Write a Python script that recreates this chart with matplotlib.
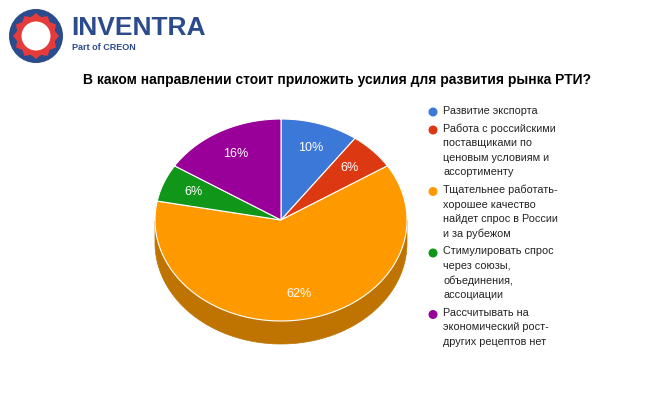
import numpy as np
import matplotlib
matplotlib.use("Agg")
import matplotlib.pyplot as plt
from matplotlib.patches import Polygon, Circle

categories = ["Развитие экспорта",
              "Работа с российскими\nпоставщиками по\nценовым условиям и\nассортименту",
              "Тщательнее работать-\nхорошее качество\nнайдет спрос в России\nи за рубежом",
              "Стимулировать спрос\nчерез союзы,\nобъединения,\nассоциации",
              "Рассчитывать на\nэкономический рост-\nдругих рецептов нет"]
values = [10, 6, 62, 6, 16]
colors = ["#3c78d8", "#dc3912", "#ff9900", "#109618", "#990099"]
dark = ["#2d5aa2", "#a52b0e", "#bf7300", "#0c7112", "#730073"]
title = "В каком направлении стоит приложить усилия для развития рынка РТИ?"

plt.rcParams['font.family'] = ['Liberation Sans', 'DejaVu Sans']
fig = plt.figure(figsize=(6.62, 4.09), dpi=100)
ax = fig.add_axes([0, 0, 1, 1])
ax.set_xlim(0, 662); ax.set_ylim(409, 0); ax.axis('off')

cx, cy, rx, ry, depth = 281, 220, 126, 101, 23
def pt(t, dy=0):
    r = np.radians(t)
    return cx + rx*np.cos(r), cy - ry*np.sin(r) + dy

total = sum(values)
bounds = []
cum = 0
for v in values:
    t1 = 90 - cum/total*360
    cum += v
    t2 = 90 - cum/total*360
    bounds.append((t1, t2))

for (t1, t2), c in zip(bounds, dark):
    ts = np.linspace(t2, t1, 200)
    ts_n = ts % 360
    vis = ts[(ts_n >= 180) & (ts_n <= 360)]
    if len(vis) < 2: continue
    top = [pt(t) for t in vis]
    bot = [pt(t, depth) for t in vis[::-1]]
    ax.add_patch(Polygon(top + bot, closed=True, fc=c, ec=c, lw=0.5))
for (t1, t2), c, v in zip(bounds, colors, values):
    ts = np.linspace(t1, t2, 200)
    pts = [(cx, cy)] + [pt(t) for t in ts]
    ax.add_patch(Polygon(pts, closed=True, fc=c, ec="white", lw=0.8))
    tm = (t1 + t2)/2
    r = np.radians(tm)
    ax.text(cx + 0.75*rx*np.cos(r), cy - 0.75*ry*np.sin(r), f"{v}%",
            color="white", fontsize=9, ha="center", va="center")

ax.text(337, 80, title, fontsize=10, fontweight="bold", ha="center", va="center")

y = 112
for lab, c in zip(categories, colors):
    ax.add_patch(Circle((433, y), 4.5, fc=c, ec="none"))
    ax.text(443, y - 6.5, lab, fontsize=7.8, va="top", ha="left",
            color="#222222", linespacing=1.55)
    y += 14.5*lab.count("\n") + 18

lc = (36, 36)
ax.add_patch(Circle(lc, 27, fc="#2c4b8c", ec="none"))
n = 24
ang = np.linspace(0, 2*np.pi, n, endpoint=False)
rr = np.where(np.arange(n) % 2 == 0, 23, 19.5)
star = [(lc[0]+r*np.cos(a), lc[1]+r*np.sin(a)) for r, a in zip(rr, ang)]
ax.add_patch(Polygon(star, closed=True, fc="#e63b3b", ec="none"))
ax.add_patch(Circle(lc, 14.5, fc="white", ec="none"))
ax.text(71, 28, "INVENTRA", fontsize=19, fontweight="bold", color="#2c4b8c",
        va="center", ha="left")
ax.text(72, 47, "Part of CREON", fontsize=6.5, fontweight="bold", color="#2c4b8c",
        va="center", ha="left")

fig.savefig("out.png", dpi=100, facecolor="white")
